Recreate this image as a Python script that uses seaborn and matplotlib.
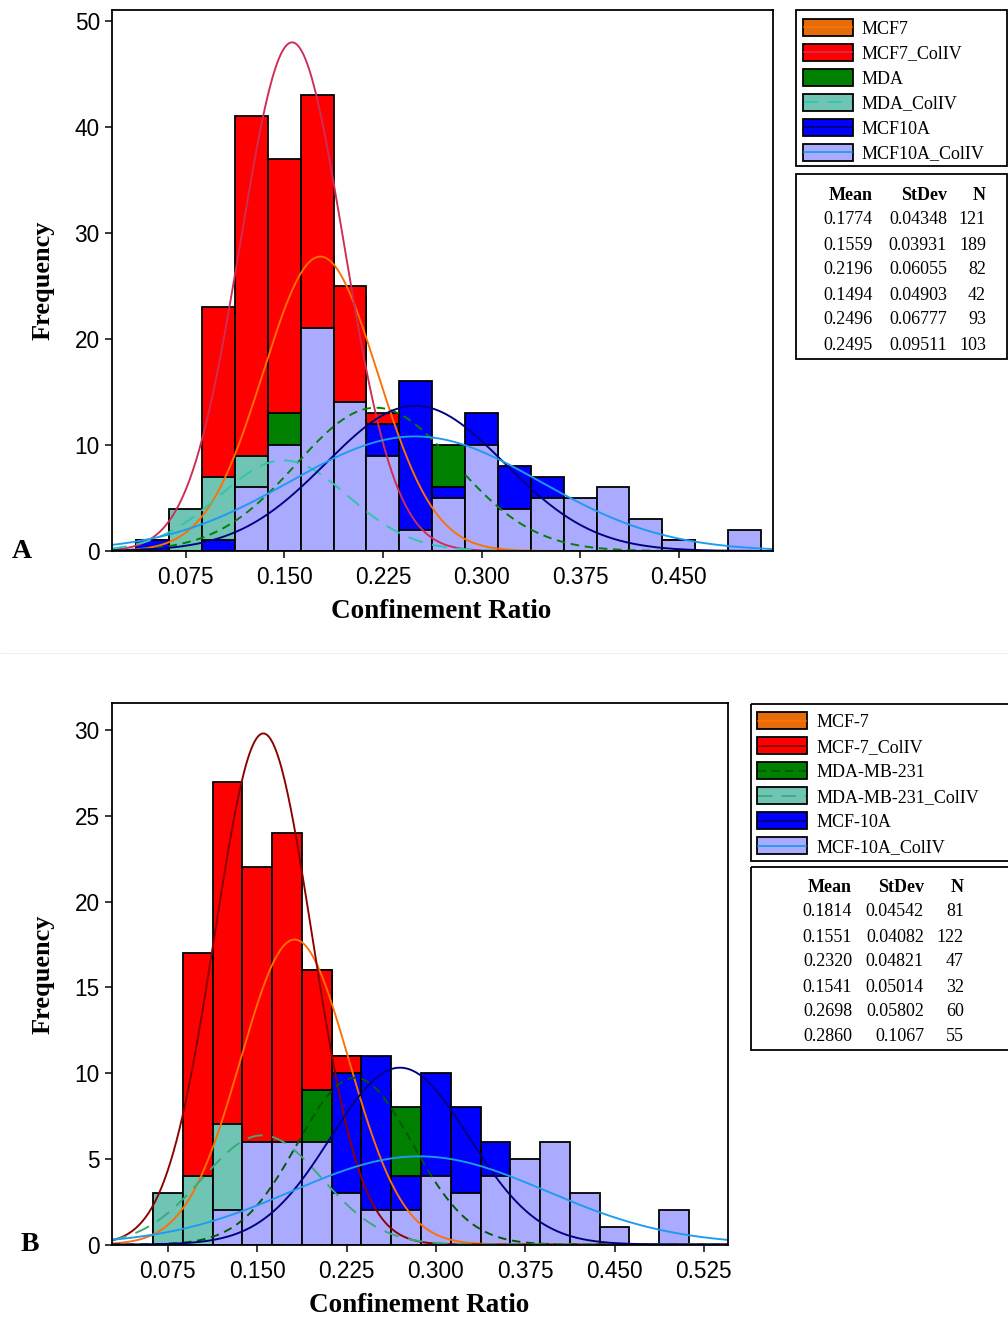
import numpy as np
import pandas as pd
import matplotlib
matplotlib.use("Agg")
import matplotlib.pyplot as plt
import seaborn as sns
from matplotlib.patches import Rectangle

# ---------------- data ----------------
bin_centers = [0.05, 0.075, 0.1, 0.125, 0.15, 0.175, 0.2, 0.225, 0.25, 0.275,
               0.3, 0.325, 0.35, 0.375, 0.4, 0.425, 0.45, 0.475, 0.5]
bin_width = 0.025

# Panel A counts (drawn in legend order, later groups on top)
a_labels = ["MCF7", "MCF7_ColIV", "MDA", "MDA_ColIV", "MCF10A", "MCF10A_ColIV"]
a_mcf7 =        [0, 2, 6, 14, 23, 27, 24, 12, 8, 3, 2, 0, 0, 0, 0, 0, 0, 0, 0]
a_mcf7_coliv =  [1, 3, 23, 41, 37, 43, 25, 13, 2, 1, 0, 0, 0, 0, 0, 0, 0, 0, 0]
a_mda =         [0, 0, 2, 3, 13, 8, 12, 11, 10, 10, 6, 4, 2, 1, 0, 0, 0, 0, 0]
a_mda_coliv =   [1, 4, 7, 9, 8, 6, 4, 2, 1, 0, 0, 0, 0, 0, 0, 0, 0, 0, 0]
a_mcf10a =      [1, 0, 1, 1, 3, 6, 9, 12, 16, 6, 13, 8, 7, 4, 3, 2, 1, 0, 0]
a_mcf10a_coliv = [0, 0, 0, 6, 10, 21, 14, 9, 2, 5, 10, 4, 5, 5, 6, 3, 1, 0, 2]
a_mean = ["0.1774", "0.1559", "0.2196", "0.1494", "0.2496", "0.2495"]
a_stdev = ["0.04348", "0.03931", "0.06055", "0.04903", "0.06777", "0.09511"]
a_n = ["121", "189", "82", "42", "93", "103"]

# Panel B counts
b_labels = ["MCF-7", "MCF-7_ColIV", "MDA-MB-231", "MDA-MB-231_ColIV", "MCF-10A", "MCF-10A_ColIV"]
b_mcf7 =        [0, 1, 4, 8, 13, 17, 16, 11, 7, 3, 1, 0, 0, 0, 0, 0, 0, 0, 0]
b_mcf7_coliv =  [0, 2, 17, 27, 22, 24, 16, 11, 2, 1, 0, 0, 0, 0, 0, 0, 0, 0, 0]
b_mda =         [0, 0, 0, 0, 1, 3, 9, 9, 9, 8, 5, 2, 1, 0, 0, 0, 0, 0, 0]
b_mda_coliv =   [0, 3, 4, 7, 6, 5, 4, 2, 1, 0, 0, 0, 0, 0, 0, 0, 0, 0, 0]
b_mcf10a =      [0, 0, 0, 0, 1, 2, 4, 10, 11, 4, 10, 8, 6, 3, 1, 0, 0, 0, 0]
b_mcf10a_coliv = [0, 0, 0, 2, 6, 6, 6, 3, 2, 2, 4, 3, 4, 5, 6, 3, 1, 0, 2]
b_mean = ["0.1814", "0.1551", "0.2320", "0.1541", "0.2698", "0.2860"]
b_stdev = ["0.04542", "0.04082", "0.04821", "0.05014", "0.05802", "0.1067"]
b_n = ["81", "122", "47", "32", "60", "55"]

a_counts = [a_mcf7, a_mcf7_coliv, a_mda, a_mda_coliv, a_mcf10a, a_mcf10a_coliv]
b_counts = [b_mcf7, b_mcf7_coliv, b_mda, b_mda_coliv, b_mcf10a, b_mcf10a_coliv]

# ---------------- styles ----------------
fill_colors = ["#E46C0A", "#FF0000", "#008000", "#70C4B4", "#0000FF", "#AAAAFF"]
a_line_colors = ["#FF7000", "#D02C55", "#008000", "#2EC8A8", "#000080", "#1E9BF0"]
b_line_colors = ["#FF7000", "#8B0000", "#005A00", "#3AAA78", "#000080", "#1E9BF0"]
line_styles = ["-", "-", (0, (4.5, 3)), (0, (8, 5)), "-", "-"]

sns.set_theme(style="white")
plt.rcParams["font.family"] = ["Liberation Sans", "DejaVu Sans"]

W, H = 1008, 1318
fig = plt.figure(figsize=(W / 100, H / 100), dpi=100)


def ax_rect(left, top, right, bottom):
    return [left / W, 1 - bottom / H, (right - left) / W, (bottom - top) / H]


edges = [round(c - bin_width / 2, 4) for c in bin_centers] + [round(bin_centers[-1] + bin_width / 2, 4)]
PX = 0.72  # points per pixel


def draw_panel(rect, counts, labels, means, sds, ns, line_colors, xlim, ylim,
               xticks, yticks):
    ax = fig.add_axes(rect)
    for cnt, lab, fc in zip(counts, labels, fill_colors):
        df = pd.DataFrame({"x": bin_centers, "w": cnt})
        sns.histplot(data=df, x="x", weights="w", bins=edges, ax=ax,
                     color=fc, alpha=1, edgecolor="black", linewidth=1.8 * PX,
                     stat="count")
    xs = np.linspace(xlim[0], xlim[1], 400)
    for m, s, n, lc, ls in zip(means, sds, ns, line_colors, line_styles):
        m, s, n = float(m), float(s), int(n)
        ys = n * bin_width * np.exp(-0.5 * ((xs - m) / s) ** 2) / (s * np.sqrt(2 * np.pi))
        sns.lineplot(x=xs, y=ys, ax=ax, color=lc, linewidth=1.9 * PX,
                     linestyle=ls, estimator=None, sort=False)
    ax.set_xlim(*xlim)
    ax.set_ylim(*ylim)
    ax.set_xticks(xticks)
    ax.set_xticklabels([f"{t:.3f}" for t in xticks])
    ax.set_yticks(yticks)
    ax.set_yticklabels([str(t) for t in yticks])
    ax.set_xlabel("")
    ax.set_ylabel("")
    for sp in ax.spines.values():
        sp.set_visible(True)
        sp.set_color("black")
        sp.set_linewidth(1.8 * PX)
    ax.tick_params(axis="both", which="both", direction="out", length=7 * PX,
                   width=1.5 * PX, color="black", labelsize=16.3,
                   labelcolor="black")
    ax.tick_params(axis="x", pad=6)
    ax.tick_params(axis="y", pad=3.5)
    ax.tick_params(top=False, right=False, bottom=True, left=True)
    ax.grid(False)
    return ax


ax_a = draw_panel(ax_rect(111.7, 10, 772.7, 551), a_counts, a_labels, a_mean,
                  a_stdev, a_n, a_line_colors, (0.0187, 0.5215), (0, 51.0),
                  [0.075, 0.15, 0.225, 0.3, 0.375, 0.45], [0, 10, 20, 30, 40, 50])
ax_b = draw_panel(ax_rect(111.7, 702.7, 727.7, 1244.5), b_counts, b_labels, b_mean,
                  b_stdev, b_n, b_line_colors, (0.0278, 0.545), (0, 31.6),
                  [0.075, 0.15, 0.225, 0.3, 0.375, 0.45, 0.525], [0, 5, 10, 15, 20, 25, 30])

# ---------------- overlay (legends, tables, labels) ----------------
ov = fig.add_axes([0, 0, 1, 1], zorder=5)
ov.set_xlim(0, W)
ov.set_ylim(H, 0)
ov.axis("off")
ov.patch.set_alpha(0)

serif = ["Liberation Serif", "DejaVu Serif"]

# faint separator
ov.plot([0, W], [653, 653], color="#EEEEEE", linewidth=1.0 * PX)


def legend_block(box, rows_y, patch_x0, patch_x1, text_x, labels, line_colors):
    x0, y0, x1, y1 = box
    ov.add_patch(Rectangle((x0, y0), x1 - x0, y1 - y0, fill=False,
                           edgecolor="black", linewidth=1.8 * PX))
    for y, lab, fc, lc, ls in zip(rows_y, labels, fill_colors, line_colors, line_styles):
        ph = 17
        ov.add_patch(Rectangle((patch_x0, y - ph / 2), patch_x1 - patch_x0, ph,
                               facecolor=fc, edgecolor="black", linewidth=1.8 * PX))
        ov.plot([patch_x0 + 1, patch_x1 - 1], [y, y], color=lc, linestyle=ls,
                linewidth=1.8 * PX)
        ov.text(text_x, y, lab, family=serif, fontsize=13, ha="left",
                va="center_baseline", color="black")


def table_block(box, header_y, rows_y, col_right, means, sds, ns):
    x0, y0, x1, y1 = box
    ov.add_patch(Rectangle((x0, y0), x1 - x0, y1 - y0, fill=False,
                           edgecolor="black", linewidth=1.8 * PX))
    for xr, h in zip(col_right, ["Mean", "StDev", "N"]):
        ov.text(xr, header_y, h, family=serif, fontsize=13, fontweight="bold",
                ha="right", va="center_baseline", color="black")
    for y, m, s, n in zip(rows_y, means, sds, ns):
        for xr, v in zip(col_right, [m, s, n]):
            ov.text(xr, y, v, family=serif, fontsize=13, ha="right",
                    va="center_baseline", color="black")


legend_block((796, 10, 1007, 166), [27, 52, 77, 102, 127, 152], 802.5, 852.5, 862,
             a_labels, a_line_colors)
table_block((796, 173.5, 1007, 358.5), 193, [218, 243, 268, 293, 318, 343],
            [873, 947, 986], a_mean, a_stdev, a_n)

legend_block((751, 703.5, 1012, 860.5), [720.5, 745.5, 770.5, 795.5, 820.5, 845.5],
             757, 807, 816.5, b_labels, b_line_colors)
table_block((751, 866.5, 1012, 1050), 885, [910, 935, 960, 985, 1010, 1034.5],
            [852, 924, 964], b_mean, b_stdev, b_n)

# axis titles
ov.text(43, 280.5, "Frequency", family=serif, fontsize=19, fontweight="bold",
        rotation=90, ha="center", va="center", color="black")
ov.text(441, 612, "Confinement Ratio", family=serif, fontsize=19.5, fontweight="bold",
        ha="center", va="center", color="black")
ov.text(43, 974, "Frequency", family=serif, fontsize=19, fontweight="bold",
        rotation=90, ha="center", va="center", color="black")
ov.text(419, 1305, "Confinement Ratio", family=serif, fontsize=19.5, fontweight="bold",
        ha="center", va="center", color="black")

# panel letters
ov.text(22, 558, "A", family=serif, fontsize=20, fontweight="bold", ha="center",
        va="baseline", color="black")
ov.text(30, 1251, "B", family=serif, fontsize=20, fontweight="bold", ha="center",
        va="baseline", color="black")

fig.savefig("out.png", dpi=100)
